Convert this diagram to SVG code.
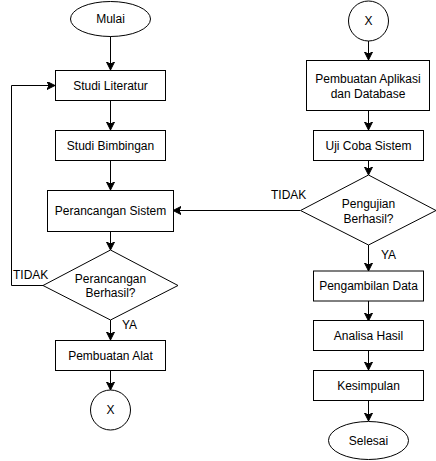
<svg xmlns="http://www.w3.org/2000/svg" width="436" height="461" viewBox="0 0 436 461">
<defs>
<style>
.s{fill:#fff;stroke:#000;stroke-width:1}
.t{font-family:"Liberation Sans",Arial,sans-serif;font-size:12px;fill:#000;text-anchor:middle}
.l{font-family:"Liberation Sans",Arial,sans-serif;font-size:12px;fill:#000}
.c{fill:none;stroke:#000;stroke-width:1}
</style>
<marker id="a" markerUnits="userSpaceOnUse" markerWidth="10" markerHeight="10" refX="8" refY="4" orient="auto">
<path d="M0,0 L8,4 L0,8 L2,4 z" fill="#000" stroke="#000" stroke-width="1"/>
</marker>
</defs>
<rect width="436" height="461" fill="#fff"/>
<g id="connectors">
<path class="c" d="M110.5,36 V70" marker-end="url(#a)"/>
<path class="c" d="M110.5,100 V130" marker-end="url(#a)"/>
<path class="c" d="M110.5,160 V190" marker-end="url(#a)"/>
<path class="c" d="M110.5,231 V250" marker-end="url(#a)"/>
<path class="c" d="M110.5,320 V340" marker-end="url(#a)"/>
<path class="c" d="M110.5,370 V390" marker-end="url(#a)"/>
<path class="c" d="M43,285.5 H11.5 V85.5 H55" marker-end="url(#a)"/>
<path class="c" d="M368.5,41 V60" marker-end="url(#a)"/>
<path class="c" d="M368.5,110 V130" marker-end="url(#a)"/>
<path class="c" d="M368.5,160 V175" marker-end="url(#a)"/>
<path class="c" d="M368.5,245 V271" marker-end="url(#a)"/>
<path class="c" d="M368.5,301 V321" marker-end="url(#a)"/>
<path class="c" d="M368.5,350 V370" marker-end="url(#a)"/>
<path class="c" d="M368.5,400 V421" marker-end="url(#a)"/>
<path class="c" d="M300,210.5 H173" marker-end="url(#a)"/>
<text class="l" x="13" y="279">TIDAK</text>
<text class="l" x="122" y="329">YA</text>
<text class="l" x="271" y="199">TIDAK</text>
<text class="l" x="381" y="259">YA</text>
</g>
<g id="mulai"><ellipse class="s" cx="110.5" cy="19" rx="40" ry="17.5"/><text class="t" x="110.5" y="23">Mulai</text></g>
<g id="studi-literatur"><rect class="s" x="55.5" y="70.5" width="110" height="30"/><text class="t" x="110.5" y="89.5">Studi Literatur</text></g>
<g id="studi-bimbingan"><rect class="s" x="55.5" y="130.5" width="110" height="30"/><text class="t" x="110.5" y="149.5">Studi Bimbingan</text></g>
<g id="perancangan-sistem"><rect class="s" x="47.5" y="190.5" width="126" height="41"/><text class="t" x="110.5" y="215">Perancangan Sistem</text></g>
<g id="perancangan-berhasil"><polygon class="s" points="110.5,250 178,285.5 110.5,320 43,285.5"/><text class="t" x="110.5" y="282.5">Perancangan</text><text class="t" x="110.5" y="297">Berhasil?</text></g>
<g id="pembuatan-alat"><rect class="s" x="55.5" y="340.5" width="110" height="30"/><text class="t" x="110.5" y="359.5">Pembuatan Alat</text></g>
<g id="x-left"><circle class="s" cx="110.5" cy="410" r="20"/><text class="t" x="110.5" y="414">X</text></g>
<g id="x-right"><circle class="s" cx="368.5" cy="21" r="20"/><text class="t" x="368.5" y="25">X</text></g>
<g id="pembuatan-aplikasi"><rect class="s" x="306.5" y="60.5" width="123" height="50"/><text class="t" x="368" y="83">Pembuatan Aplikasi</text><text class="t" x="368" y="97.5">dan Database</text></g>
<g id="uji-coba"><rect class="s" x="313.5" y="130.5" width="110" height="30"/><text class="t" x="368.5" y="149.5">Uji Coba Sistem</text></g>
<g id="pengujian-berhasil"><polygon class="s" points="368.5,175 436,210.5 368.5,245 300.5,210.5"/><text class="t" x="368.5" y="207.5">Pengujian</text><text class="t" x="368.5" y="222.5">Berhasil?</text></g>
<g id="pengambilan-data"><rect class="s" x="313.5" y="271" width="110" height="30"/><text class="t" x="368.5" y="290">Pengambilan Data</text></g>
<g id="analisa-hasil"><rect class="s" x="313.5" y="320.5" width="110" height="30"/><text class="t" x="368.5" y="339.5">Analisa Hasil</text></g>
<g id="kesimpulan"><rect class="s" x="313.5" y="370.5" width="110" height="30"/><text class="t" x="368.5" y="389.5">Kesimpulan</text></g>
<g id="selesai"><ellipse class="s" cx="368.5" cy="440.5" rx="40" ry="19"/><text class="t" x="368.5" y="445">Selesai</text></g>
</svg>
